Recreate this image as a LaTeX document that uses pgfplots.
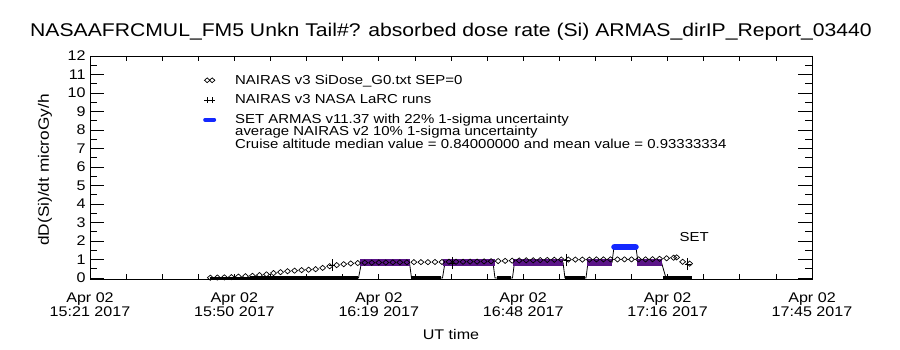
\documentclass[border=0pt]{standalone}
\usepackage{fontspec}
\setmainfont{Liberation Sans}[FakeStretch=1.15]
\usepackage{pgfplots}
\pgfplotsset{compat=1.18}
\definecolor{armaspurple}{RGB}{90,20,135}
\definecolor{armasblue}{RGB}{20,40,255}
\newcommand{\fs}[1]{\fontsize{#1}{#1}\selectfont}
\begin{document}
\begin{tikzpicture}
\useasboundingbox (0,0) rectangle (900pt,350pt);
\begin{axis}[
  at={(90pt,71pt)}, anchor=south west, scale only axis,
  width=722pt, height=223pt,
  xmin=0, xmax=144, ymin=-0.05, ymax=12,
  axis line style={line width=0.9pt},
  xtick={0,28.8,57.6,86.4,115.2,144},
  xticklabels={Apr 02\\15:21 2017, Apr 02\\15:50 2017, Apr 02\\16:19 2017, Apr 02\\16:48 2017, Apr 02\\17:16 2017, Apr 02\\17:45 2017},
  minor x tick num=3,
  ytick={0,1,...,12}, minor y tick num=1,
  tick align=inside,
  tick style={black, line width=0.8pt},
  xtick style={/pgfplots/major tick length=5pt, /pgfplots/minor tick length=5pt},
  ytick style={/pgfplots/major tick length=14pt, /pgfplots/minor tick length=7pt},
  /pgf/number format/assume math mode=true,
  xticklabel style={align=center, font=\fs{14pt}, yshift=-10pt},
  yticklabel style={font=\fs{14pt}, xshift=-1pt},
  title={NASAAFRCMUL\_FM5 Unkn Tail\#? absorbed dose rate (Si) ARMAS\_dirIP\_Report\_03440},
  title style={at={(axis description cs:0.5,1.0807)}, anchor=center, font=\fs{18.4pt}},
  xlabel={UT time},
  xlabel style={at={(axis description cs:0.5,-0.248)}, anchor=center, font=\fs{14pt}},
  ylabel={dD(Si)/dt microGy/h},
  ylabel style={at={(axis description cs:-0.0623,0.489)}, anchor=center, font=\fs{15pt}},
  legend style={at={(axis description cs:0.1565,0.921)}, anchor=north west, draw=none, fill=none,
    inner sep=0pt, row sep=7pt, column sep=18pt, font=\fs{13pt}, nodes={inner sep=1pt, anchor=west}},
  legend cell align=left,
]
% ARMAS connected line
\addplot[black, line width=0.8pt, forget plot] coordinates {
 (23.93,0) (53.55,0) (54.15,0.84) (63.72,0.84) (64.12,0) (70.30,0) (70.80,0.84) (80.38,0.84)
 (80.77,0) (84.26,0) (84.66,0.84) (94.34,0.84) (94.73,0) (98.92,0) (99.32,0.84) (104.11,0.84)
 (104.51,1.68) (108.89,1.68) (109.29,0.84) (113.98,0.84) (114.88,0) (120.06,0)};
% ARMAS zero values (thick baseline)
\addplot[black, line width=2pt, forget plot] coordinates {(23.93,0) (31.91,0)};
\addplot[black, line width=3.5pt, forget plot] coordinates {(31.91,0) (53.45,0)};
\addplot[black, line width=3.5pt, forget plot] coordinates {(64.02,0) (70.00,0)};
\addplot[black, line width=3.5pt, forget plot] coordinates {(81.17,0) (83.96,0)};
\addplot[black, line width=3.5pt, forget plot] coordinates {(94.73,0) (98.72,0)};
\addplot[black, line width=3.5pt, forget plot] coordinates {(114.28,0) (120.06,0)};
% ARMAS cruise values
\addplot[armaspurple, line width=6.5pt, forget plot] coordinates {(53.85,0.84) (63.82,0.84)};
\addplot[armaspurple, line width=6.5pt, forget plot] coordinates {(70.40,0.84) (80.77,0.84)};
\addplot[armaspurple, line width=6.5pt, forget plot] coordinates {(84.36,0.84) (94.34,0.84)};
\addplot[armaspurple, line width=6.5pt, forget plot] coordinates {(99.12,0.84) (104.11,0.84)};
\addplot[armasblue, line width=6.5pt, line cap=round, forget plot] coordinates {(104.6,1.68) (108.8,1.68)};
\addplot[armaspurple, line width=6.5pt, forget plot] coordinates {(109.09,0.84) (114.08,0.84)};
% NAIRAS v3 SiDose_G0 SEP=0
\addplot[only marks, mark=diamond, mark size=2.6pt, mark options={xscale=1.5, line width=0.7pt, fill=white}, forget plot] coordinates {
 (24.0,0.02) (25.4,0.03) (26.8,0.04) (28.2,0.05) (29.6,0.08) (31.0,0.10) (32.4,0.12) (33.8,0.16)
 (35.2,0.20) (36.6,0.27) (38.0,0.32) (39.4,0.37) (40.8,0.40) (42.2,0.43) (43.6,0.45) (45.0,0.48)
 (46.4,0.55) (47.8,0.64) (49.2,0.70) (50.6,0.75) (52.0,0.79) (53.4,0.81) (54.8,0.83) (56.2,0.83)
 (57.6,0.84) (59.0,0.84) (60.4,0.85) (61.8,0.85) (63.2,0.85) (64.6,0.86) (66.0,0.86) (67.4,0.86)
 (68.8,0.87) (70.2,0.87) (71.6,0.88) (73.0,0.88) (74.4,0.88) (75.8,0.89) (77.2,0.89) (78.6,0.90)
 (80.0,0.91) (81.4,0.92) (82.8,0.93) (84.2,0.94) (85.6,0.95) (87.0,0.96) (88.4,0.96) (89.8,0.97)
 (91.2,0.98) (92.6,0.99) (94.0,1.00) (95.4,1.00) (96.8,1.00) (98.2,1.00) (99.6,1.00) (101.0,1.01)
 (102.4,1.01) (103.8,1.01) (105.2,1.01) (106.6,1.01) (108.0,1.01) (109.4,1.01) (110.8,1.01) (112.2,1.02)
 (113.6,1.04) (115.0,1.07) (116.4,1.10) (117.0,1.12) (118.2,0.88) (119.6,0.78)};
% NAIRAS v3 NASA LaRC runs
\addplot[only marks, mark=+, mark size=3pt, mark options={line width=0.8pt}, forget plot,
  error bars/.cd, y dir=both, y explicit, error mark=-, error mark options={mark size=5pt, line width=0.8pt},
  error bar style={line width=0.8pt}] coordinates {
 (48.3,0.70) +- (0,0.05) (72.2,0.81) +- (0,0.06) (95.1,0.97) +- (0,0.07) (119.2,0.76) +- (0,0.06)};
\node[font=\fs{13pt}] at (axis cs:120.5,2.2) {SET};
% legend
\addlegendimage{legend image code/.code={\draw[only marks, mark=diamond, mark size=2.4pt, mark options={xscale=1.5, line width=0.7pt}] plot coordinates {(4pt,0pt) (9pt,0pt)};}}
\addlegendentry{NAIRAS v3 SiDose\_G0.txt SEP=0}
\addlegendimage{legend image code/.code={\draw[only marks, mark=+, mark size=3pt, mark options={line width=0.8pt}] plot coordinates {(4pt,0pt) (9pt,0pt)};}}
\addlegendentry{NAIRAS v3 NASA LaRC runs}
\addlegendimage{legend image code/.code={\draw[armasblue, line width=4pt, line cap=round] (2pt,0pt) -- (11pt,0pt);}}
\addlegendentry{SET ARMAS v11.37 with 22\% 1-sigma uncertainty}
\end{axis}
\node[anchor=west, font=\fs{13pt}, inner sep=0pt] at (235pt,217.5pt) {average NAIRAS v2 10\% 1-sigma uncertainty};
\node[anchor=west, font=\fs{13pt}, inner sep=0pt] at (235pt,206.5pt) {Cruise altitude median value = 0.84000000 and mean value = 0.93333334};
\end{tikzpicture}
\end{document}
